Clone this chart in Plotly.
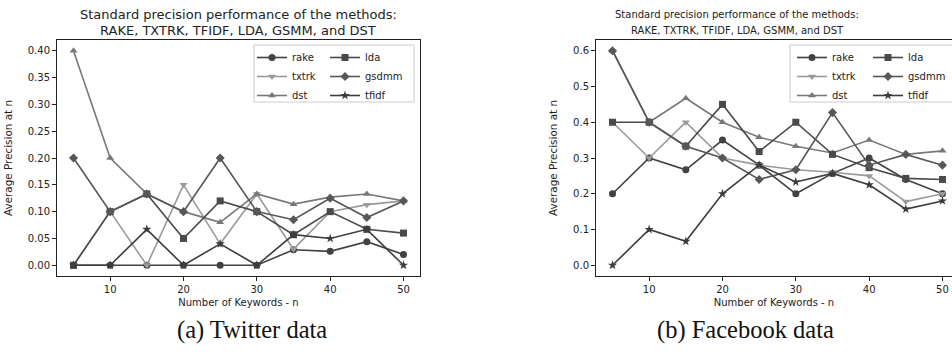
import plotly.graph_objects as go

n_keywords = [5, 10, 15, 20, 25, 30, 35, 40, 45, 50]

# Twitter data
tw_rake  = [0.0, 0.0, 0.0, 0.0, 0.0, 0.0, 0.029, 0.026, 0.044, 0.02]
tw_txtrk = [0.0, 0.10, 0.0, 0.15, 0.04, 0.133, 0.03, 0.10, 0.113, 0.12]
tw_dst   = [0.40, 0.20, 0.133, 0.10, 0.08, 0.133, 0.114, 0.127, 0.133, 0.12]
tw_lda   = [0.0, 0.10, 0.133, 0.05, 0.12, 0.10, 0.057, 0.10, 0.067, 0.06]
tw_gsdmm = [0.20, 0.10, 0.133, 0.10, 0.20, 0.10, 0.085, 0.125, 0.089, 0.12]
tw_tfidf = [0.0, 0.0, 0.067, 0.0, 0.04, 0.0, 0.057, 0.05, 0.067, 0.0]

# Facebook data
fb_rake  = [0.20, 0.30, 0.267, 0.35, 0.28, 0.20, 0.257, 0.30, 0.24, 0.20]
fb_txtrk = [0.40, 0.30, 0.40, 0.30, 0.28, 0.267, 0.26, 0.25, 0.178, 0.20]
fb_dst   = [0.60, 0.40, 0.467, 0.40, 0.358, 0.333, 0.314, 0.35, 0.31, 0.32]
fb_lda   = [0.40, 0.40, 0.333, 0.45, 0.318, 0.40, 0.31, 0.273, 0.243, 0.24]
fb_gsdmm = [0.60, 0.40, 0.333, 0.30, 0.24, 0.267, 0.427, 0.28, 0.31, 0.28]
fb_tfidf = [0.0, 0.10, 0.067, 0.20, 0.28, 0.233, 0.257, 0.225, 0.157, 0.18]

series_names = ["rake", "txtrk", "dst", "lda", "gsdmm", "tfidf"]
tw_values = [tw_rake, tw_txtrk, tw_dst, tw_lda, tw_gsdmm, tw_tfidf]
fb_values = [fb_rake, fb_txtrk, fb_dst, fb_lda, fb_gsdmm, fb_tfidf]

colors = {"rake": "#424242", "txtrk": "#9a9a9a", "dst": "#787878",
          "lda": "#4a4a4a", "gsdmm": "#575757", "tfidf": "#3c3c3c"}
symbols = {"rake": "circle", "txtrk": "triangle-down", "dst": "triangle-up",
           "lda": "square", "gsdmm": "diamond", "tfidf": "star"}
msize = {"rake": 7, "txtrk": 7, "dst": 7, "lda": 7, "gsdmm": 7, "tfidf": 7}
column = {"rake": 0, "txtrk": 0, "dst": 0, "lda": 1, "gsdmm": 1, "tfidf": 1}

title_lines = ["Standard precision performance of the methods:",
               "RAKE, TXTRK, TFIDF, LDA, GSMM, and DST"]
x_title = "Number of Keywords - n"
y_title = "Average Precision at n"
captions = ["(a) Twitter data", "(b) Facebook data"]

W, H = 952, 355
fig = go.Figure()

legend_ids = [["legend", "legend2"], ["legend3", "legend4"]]
for p, (vals, xa, ya) in enumerate([(tw_values, "x", "y"), (fb_values, "x2", "y2")]):
    for name, v in zip(series_names, vals):
        fig.add_trace(go.Scatter(
            x=n_keywords, y=v, name=name, mode="lines+markers",
            xaxis=xa, yaxis=ya,
            line=dict(color=colors[name], width=1.6),
            marker=dict(symbol=symbols[name], size=msize[name], color=colors[name]),
            legend=legend_ids[p][column[name]],
        ))

def px_x(v):
    return v / W

def px_y(v):
    return 1 - v / H

axis_font = dict(family="DejaVu Sans", size=10, color="#222")
common_x = dict(showline=True, linecolor="#222", linewidth=1, ticks="outside",
                ticklen=4, tickcolor="#222", tickfont=axis_font, showgrid=False,
                zeroline=False, tickvals=[10, 20, 30, 40, 50],
                title=dict(text=x_title, font=dict(family="DejaVu Sans", size=10, color="#222"), standoff=4))
common_y = dict(showline=True, linecolor="#222", linewidth=1, ticks="outside",
                ticklen=4, tickcolor="#222", tickfont=axis_font, showgrid=False,
                zeroline=False,
                title=dict(text=y_title, font=dict(family="DejaVu Sans", size=10.4, color="#222"), standoff=13))

top, bottom = 40, 276
fig.update_layout(
    width=W, height=H, margin=dict(l=0, r=0, t=0, b=0),
    paper_bgcolor="white", plot_bgcolor="white",
    showlegend=True,
    xaxis=dict(domain=[px_x(57), px_x(420)], range=[2.75, 52.25], anchor="y", mirror=True, **common_x),
    yaxis=dict(domain=[px_y(bottom), px_y(top)], range=[-0.02, 0.42], anchor="x", mirror=True,
               tickvals=[0, 0.05, 0.10, 0.15, 0.20, 0.25, 0.30, 0.35, 0.40], tickformat=".2f", **common_y),
    xaxis2=dict(domain=[px_x(596), 1.0], range=[2.75, 51.3], anchor="y2", mirror=True, **common_x),
    yaxis2=dict(domain=[px_y(bottom), px_y(top)], range=[-0.03, 0.63], anchor="x2", mirror=False,
                tickvals=[0, 0.1, 0.2, 0.3, 0.4, 0.5, 0.6], tickformat=".1f", **common_y),
)

leg_font = dict(family="DejaVu Sans", size=10, color="#222")
leg_common = dict(bgcolor="rgba(0,0,0,0)", borderwidth=0, font=leg_font,
                  xanchor="left", yanchor="top", tracegroupgap=0, itemwidth=30,
                  orientation="v")
legend_pos = {"legend": (252, 43), "legend2": (325, 43), "legend3": (792, 43), "legend4": (868, 43)}
for lid, (lx, ly) in legend_pos.items():
    fig.update_layout({lid: dict(x=px_x(lx), y=px_y(ly), **leg_common)})

# legend frames
for (x0, x1) in [(254, 414), (790, 958)]:
    fig.add_shape(type="rect", xref="paper", yref="paper",
                  x0=px_x(x0), x1=px_x(x1), y0=px_y(102), y1=px_y(45),
                  line=dict(color="#cccccc", width=1), fillcolor="white", layer="below")

# titles (two lines each)
for cx, fs in [(238, 13), (737, 10)]:
    for ty, line in zip([15, 30], title_lines):
        fig.add_annotation(text=line, x=px_x(cx), y=px_y(ty), xref="paper", yref="paper",
                           showarrow=False, xanchor="center", yanchor="middle",
                           font=dict(family="DejaVu Sans", size=fs, color="#222"))

# captions
for cx, cap in zip([252, 745], captions):
    fig.add_annotation(text=cap, x=px_x(cx), y=px_y(330), xref="paper", yref="paper",
                       showarrow=False, xanchor="center", yanchor="middle",
                       font=dict(family="Liberation Serif", size=24.5, color="#111"))

fig.write_html("out.html", config={"displayModeBar": False},
               post_script="document.body.style.margin='0px';document.body.style.overflow='hidden';")
